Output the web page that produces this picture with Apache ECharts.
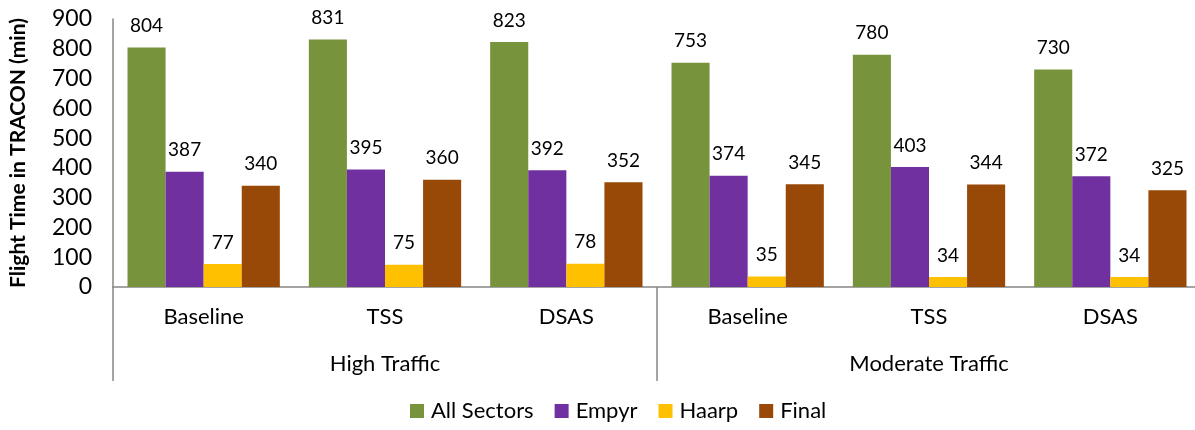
<!DOCTYPE html>
<html>
<head>
<meta charset="utf-8">
<script src="https://cdn.jsdelivr.net/npm/echarts@6/dist/echarts.min.js"></script>
<style>
    html, body { margin: 0; padding: 0; background: #fff; }
    #main { width: 1195px; height: 430px; }
</style>
</head>
<body>
<div id="main"></div>
<script>
// 数据
var scenarios = ['Baseline', 'TSS', 'DSAS', 'Baseline', 'TSS', 'DSAS'];
var trafficGroups = ['High Traffic', 'Moderate Traffic'];
var seriesNames = ['All Sectors', 'Empyr', 'Haarp', 'Final'];
var allSectors = [804, 831, 823, 753, 780, 730];
var empyr = [387, 395, 392, 374, 403, 372];
var haarp = [77, 75, 78, 35, 34, 34];
var finalSector = [340, 360, 352, 345, 344, 325];
var yTicks = [0, 100, 200, 300, 400, 500, 600, 700, 800, 900];

var colors = ['#77933C', '#7030A0', '#FFC000', '#984807'];
var font = 'Lato, "Open Sans", sans-serif';
var axisGray = '#868686';

var chart = echarts.init(document.getElementById('main'));

function makeSeries(name, data) {
    return {
        name: name,
        type: 'bar',
        xAxisIndex: 0,
        data: data,
        barGap: '0%',
        barCategoryGap: '16%',
        label: {
            show: true,
            position: 'top',
            distance: 12,
            color: '#000',
            fontFamily: font,
            fontSize: 19
        }
    };
}

var option = {
    color: colors,
    animation: false,
    grid: {
        left: 113,
        width: 1088,
        top: 19,
        bottom: 143,
        outerBoundsMode: 'none'
    },
    legend: {
        bottom: 3,
        left: 405,
        data: seriesNames,
        icon: 'rect',
        itemWidth: 14,
        itemHeight: 14,
        itemGap: 21,
        textStyle: {
            color: '#000',
            fontFamily: font,
            fontSize: 22,
            padding: [0, 0, 0, 2]
        }
    },
    xAxis: [{
        type: 'category',
        data: scenarios,
        axisLine: { lineStyle: { color: axisGray, width: 1.5 } },
        axisTick: { show: false },
        axisLabel: {
            color: '#000',
            fontFamily: font,
            fontSize: 22,
            margin: 19
        }
    }, {
        type: 'category',
        data: trafficGroups,
        position: 'bottom',
        axisLine: { show: false },
        axisTick: {
            show: true,
            length: 94,
            lineStyle: { color: axisGray, width: 1.5 }
        },
        axisLabel: {
            color: '#000',
            fontFamily: font,
            fontSize: 22,
            margin: 66
        }
    }],
    yAxis: {
        type: 'value',
        min: yTicks[0],
        max: yTicks[yTicks.length - 1],
        interval: 100,
        name: 'Flight Time in TRACON (min)',
        nameLocation: 'middle',
        nameGap: 84,
        nameTextStyle: {
            color: '#000',
            fontFamily: font,
            fontWeight: 'bold',
            fontSize: 21
        },
        splitLine: { show: false },
        axisTick: { show: false },
        axisLine: { show: true, lineStyle: { color: axisGray, width: 1.5 } },
        axisLabel: {
            color: '#000',
            fontFamily: font,
            fontSize: 23,
            margin: 21
        }
    },
    series: [
        makeSeries(seriesNames[0], allSectors),
        makeSeries(seriesNames[1], empyr),
        makeSeries(seriesNames[2], haarp),
        makeSeries(seriesNames[3], finalSector)
    ]
};

chart.setOption(option);
</script>
</body>
</html>
